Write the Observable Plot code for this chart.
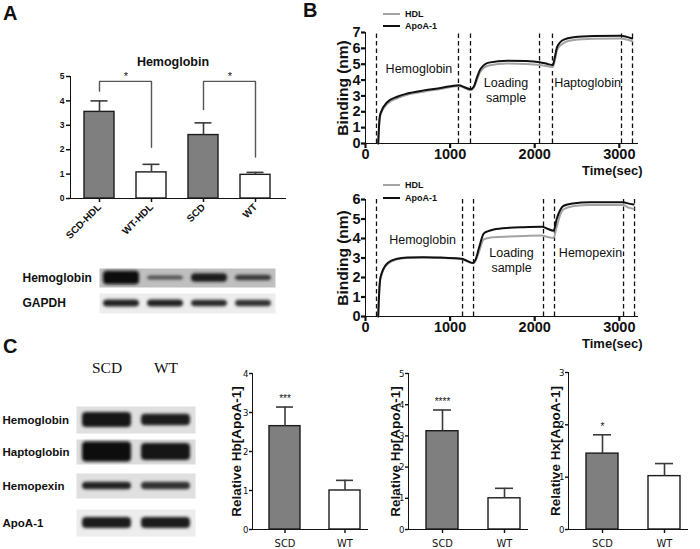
<!DOCTYPE html>
<html><head><meta charset="utf-8">
<script src="https://cdn.jsdelivr.net/npm/d3@7"></script>
<script src="https://cdn.jsdelivr.net/npm/@observablehq/plot@0.6"></script>
<style>
html,body{margin:0;padding:0;background:#fff;}
#fig{position:relative;width:700px;height:549px;overflow:hidden;background:#fff;font-family:"Liberation Sans",Arial,sans-serif;}
.abs{position:absolute;}
#fig svg{display:block;max-width:none;background:transparent;overflow:visible;}
.axA [aria-label^="x-axis"] path,.axA [aria-label^="x-axis"] line,.axA [aria-label^="y-axis"] path,.axA [aria-label^="y-axis"] line{stroke-width:1.5px;}
.axA [aria-label^="x-axis"] text{font-size:10px;}
.axB [aria-label^="x-axis"] path,.axB [aria-label^="x-axis"] line,.axB [aria-label^="y-axis"] path,.axB [aria-label^="y-axis"] line{stroke-width:2.2px;}
.axC [aria-label^="x-axis"] path,.axC [aria-label^="x-axis"] line,.axC [aria-label^="y-axis"] path,.axC [aria-label^="y-axis"] line{stroke-width:1.4px;}
.axC [aria-label^="x-axis"] text{font-size:11px;}
</style></head><body><div id="fig"></div>
<script>
// ---------------- DATA ----------------
// Panel A: Hemoglobin bar chart
const catsA = ["SCD-HDL", "WT-HDL", "SCD", "WT"];
const groupA = ["SCD", "WT", "SCD", "WT"];
const meanA = [3.55, 1.07, 2.6, 0.97];
const upperA = [4.0, 1.4, 3.1, 1.07];
const ticksA = [0, 1, 2, 3, 4, 5];
const titleA = ["Hemoglobin"];
const sigFromA = ["SCD-HDL", "SCD"];
const sigToA = ["WT-HDL", "WT"];
const sigTopA = [4.8, 4.8];
const sigLeftEndA = [4.4, 3.65];
const sigRightEndA = [2.1, 1.7];
const sigTextA = ["*", "*"];

// Panel A: western blot (lanes = catsA)
const blotRowsA = ["Hemoglobin", "GAPDH"];
const blotBgA = [0.75, 0.93];
const blotThickA = [[0.72, 0.22, 0.45, 0.28], [0.36, 0.36, 0.33, 0.32]];
const blotDarkA = [[0.03, 0.3, 0.1, 0.22], [0.14, 0.14, 0.16, 0.2]];

// Panel B: binding curves
const ticksBX = [0, 1000, 2000, 3000];
const ticksBTopY = [0, 1, 2, 3, 4, 5, 6, 7];
const ticksBBotY = [0, 1, 2, 3, 4, 5, 6];
const timeTop = [150, 165, 177, 256, 374, 492, 689, 886, 1103, 1170, 1241, 1281, 1320, 1359, 1458, 1675, 1900, 2061, 2150, 2214, 2240, 2266, 2344, 2462, 2700, 3014, 3152];
const apoTop  = [0, 1.5, 1.9, 2.6, 2.95, 3.15, 3.35, 3.5, 3.68, 3.55, 3.42, 3.6, 4.2, 4.7, 5.1, 5.22, 5.2, 5.12, 5.02, 4.95, 5.5, 6.1, 6.55, 6.7, 6.78, 6.8, 6.62];
const hdlTop  = [0, 1.4, 1.8, 2.5, 2.85, 3.07, 3.27, 3.43, 3.62, 3.5, 3.38, 3.52, 4.05, 4.55, 4.92, 5.04, 5.02, 4.95, 4.87, 4.82, 5.3, 5.9, 6.35, 6.52, 6.6, 6.62, 6.45];
const dashTop = [130, 1099, 1241, 2057, 2210, 3026, 3156];
const annTop = ["Hemoglobin", "Loading\nsample", "Haptoglobin"];
const annTopT = [632, 1661, 2624];
const annTopV = [4.77, 3.42, 3.88];

const timeBot = [150, 165, 177, 256, 374, 492, 689, 886, 1100, 1141, 1200, 1271, 1300, 1340, 1397, 1450, 1515, 1700, 1869, 2086, 2150, 2223, 2260, 2300, 2342, 2450, 2656, 3050, 3100, 3168];
const apoBot  = [0, 1.5, 2.0, 2.72, 2.96, 3.02, 3.04, 3.02, 2.98, 2.96, 2.85, 2.75, 2.9, 3.5, 4.25, 4.38, 4.46, 4.55, 4.58, 4.6, 4.5, 4.4, 5.0, 5.45, 5.68, 5.8, 5.86, 5.86, 5.8, 5.74];
const hdlBot  = [0, 1.45, 1.95, 2.68, 2.93, 3.0, 3.02, 3.0, 2.96, 2.94, 2.83, 2.73, 2.85, 3.3, 3.95, 4.02, 4.06, 4.1, 4.13, 4.15, 4.08, 4.03, 4.6, 5.2, 5.5, 5.65, 5.72, 5.72, 5.6, 5.52];
const dashBot = [130, 1147, 1277, 2104, 2234, 3050, 3180];
const annBot = ["Hemoglobin", "Loading\nsample", "Hemopexin"];
const annBotT = [674, 1726, 2659];
const annBotV = [3.95, 2.9, 3.28];
const legendNames = ["HDL", "ApoA-1"];

// Panel C: blots
const lanesC = ["SCD", "WT"];
const blotRowsC = ["Hemoglobin", "Haptoglobin", "Hemopexin", "ApoA-1"];
const blotBgC = [0.88, 0.86, 0.88, 0.93];
const blotThickC = [[0.55, 0.42], [0.8, 0.68], [0.3, 0.3], [0.4, 0.4]];
const blotDarkC = [[0.07, 0.12], [0.04, 0.07], [0.14, 0.2], [0.12, 0.12]];

// Panel C: relative bar charts
const hbMean = [2.65, 1.0], hbUpper = [3.14, 1.26];
const hpMean = [3.15, 1.0], hpUpper = [3.83, 1.32];
const hxMean = [1.45, 1.02], hxUpper = [1.81, 1.26];
const hbSig = ["***"], hpSig = ["****"], hxSig = ["*"];
const ticksHb = [0, 1, 2, 3, 4], ticksHp = [0, 1, 2, 3, 4, 5], ticksHx = [0, 1, 2, 3];

// ---------------- LAYOUT HELPERS ----------------
const fig = document.getElementById("fig");
function place(node, left, top, cls) {
  const d = document.createElement("div");
  d.className = "abs " + (cls || "");
  d.style.left = left + "px"; d.style.top = top + "px";
  d.appendChild(node); fig.appendChild(d); return node;
}
const SANS = "'Liberation Sans', Arial, Helvetica, sans-serif";
const NARROW = "'Liberation Sans Narrow', 'Arial Narrow', 'DejaVu Sans Condensed', 'Liberation Sans', sans-serif";
const base = {background: "transparent", overflow: "visible", fontFamily: SANS, color: "#111"};

// ---------------- PANEL A CHART ----------------
const padInA = 0.415, padOutA = 0.236, leftA = 70, rightA = 285, widthA = 300;
const stepA = (rightA - leftA) / (catsA.length - padInA + 2 * padOutA);
const bracketPts = sigFromA.flatMap((f, i) => [
  {id: i, x: f, y: sigLeftEndA[i]}, {id: i, x: f, y: sigTopA[i]},
  {id: i, x: sigToA[i], y: sigTopA[i]}, {id: i, x: sigToA[i], y: sigRightEndA[i]}
]);
place(Plot.plot({
  width: widthA, height: 200,
  marginLeft: leftA, marginRight: widthA - rightA, marginTop: 36, marginBottom: 42,
  style: {...base, fontSize: "8.5px", fontWeight: "bold"},
  x: {type: "band", domain: catsA, paddingInner: padInA, paddingOuter: padOutA, tickRotate: -45, tickSize: 4, tickPadding: 3, line: true, label: null},
  y: {domain: [0, 5], ticks: ticksA, tickFormat: "d", tickSize: 4, tickPadding: 2, line: true, label: null},
  color: {domain: ["SCD", "WT"], range: ["#7f7f7f", "#ffffff"]},
  marks: [
    Plot.barY(catsA, {x: catsA, y: meanA, fill: groupA, stroke: "#1c1c1c", strokeWidth: 1.4}),
    Plot.ruleX(catsA, {x: catsA, y1: meanA, y2: upperA, stroke: "#3a3a3a", strokeWidth: 1.6}),
    Plot.tickY(catsA, {x: catsA, y: upperA, insetLeft: 6.5, insetRight: 6.5, stroke: "#3a3a3a", strokeWidth: 1.6}),
    Plot.line(bracketPts, {x: "x", y: "y", z: "id", stroke: "#555", strokeWidth: 1.4}),
    Plot.text(sigFromA, {x: sigFromA, y: sigTopA, text: sigTextA, dx: stepA / 2, dy: -1, lineAnchor: "bottom", fontSize: 11, fontWeight: "normal"}),
    Plot.text(titleA, {frameAnchor: "top", text: d => d, dx: -5, dy: -19, fontSize: 12.5, fontWeight: "bold"})
  ]
}), 0, 40, "axA");

// ---------------- BLOTS ----------------
let blurCount = 0;
function blotRow({lanes, thick, dark, bg, label, width, marginLeft, marginRight, height, labelDx, inset, fontSize}) {
  const p = Plot.plot({
    width, height, marginTop: 0, marginBottom: 0, marginLeft, marginRight,
    style: {...base},
    x: {type: "band", domain: lanes, padding: 0, axis: null},
    y: {domain: [-1, 1], axis: null},
    color: {type: "linear", domain: [0, 1], range: ["#000000", "#ffffff"], interpolate: "rgb"},
    marks: [
      Plot.frame({fill: d3.interpolateRgb("#000", "#fff")(bg), stroke: "none"}),
      Plot.barY(lanes, {x: lanes, y1: thick.map(t => -t), y2: thick, fill: dark, insetLeft: inset, insetRight: inset, rx: 4}),
      Plot.text([label], {frameAnchor: "left", text: d => d, textAnchor: "start", dx: labelDx, fontSize, fontWeight: "bold", fill: "#111"})
    ]
  });
  const id = "blur" + (blurCount++);
  const f = d3.select(p).insert("defs", ":first-child").append("filter")
    .attr("id", id).attr("x", "-20%").attr("y", "-60%").attr("width", "140%").attr("height", "220%");
  f.append("feGaussianBlur").attr("stdDeviation", 1.4);
  d3.select(p).selectAll('g[aria-label="bar"]').attr("filter", `url(#${id})`);
  return p;
}
const rowTopA = [268, 293], rowHA = [19, 20];
blotRowsA.forEach((r, i) => place(blotRow({
  lanes: catsA, thick: blotThickA[i], dark: blotDarkA[i], bg: blotBgA[i], label: r,
  width: 280, marginLeft: 99, marginRight: 5, height: rowHA[i], labelDx: -77, inset: 4, fontSize: 12
}), 0, rowTopA[i]));

const rowTopC = [406, 439, 473, 509], rowHC = [27, 25, 25, 27];
blotRowsC.forEach((r, i) => place(blotRow({
  lanes: lanesC, thick: blotThickC[i], dark: blotDarkC[i], bg: blotBgC[i], label: r,
  width: 200, marginLeft: 76, marginRight: 5, height: rowHC[i], labelDx: -74, inset: 5, fontSize: 11.5
}), 0, rowTopC[i]));

place(Plot.plot({
  width: 200, height: 26, marginTop: 0, marginBottom: 0, marginLeft: 76, marginRight: 5,
  style: {...base},
  x: {type: "band", domain: lanesC, padding: 0, axis: null},
  marks: [Plot.text(lanesC, {x: lanesC, text: d => d, frameAnchor: "middle", fontFamily: "'Liberation Serif', 'Times New Roman', serif", fontSize: 15.5})]
}), 0, 355);

// ---------------- PANEL B ----------------
function bindingPlot({time, hdl, apo, dash, ymax, yTicks, ann, annT, annV, height, mTop, mBottom}) {
  return Plot.plot({
    width: 460, height, marginLeft: 125, marginRight: 63, marginTop: mTop, marginBottom: mBottom,
    style: {...base, fontSize: "14.5px", fontWeight: "bold"},
    x: {domain: [0, 3215], ticks: ticksBX, tickFormat: "d", tickSize: 5, tickPadding: 0, line: true, label: null},
    y: {domain: [0, ymax], ticks: yTicks, tickFormat: "d", tickSize: 4, tickPadding: 1, line: true, label: null},
    marks: [
      Plot.ruleX(dash, {x: d => d, y1: 0, y2: ymax, stroke: "#111", strokeWidth: 1.3, strokeDasharray: "4.5,3"}),
      Plot.line(time, {x: time, y: hdl, stroke: "#a3a3a3", strokeWidth: 2, curve: "monotone-x"}),
      Plot.line(time, {x: time, y: apo, stroke: "#111", strokeWidth: 2, curve: "monotone-x"}),
      Plot.text(ann, {x: annT, y: annV, text: ann, fontSize: 12.5, fontWeight: "normal", lineHeight: 1.2, fill: "#111"}),
      Plot.text(["Binding (nm)"], {frameAnchor: "left", text: d => d, textAnchor: "middle", rotate: -90, dx: -22, fontSize: 15.5, fontWeight: "bold"}),
      Plot.text(["Time(sec)"], {frameAnchor: "bottom-right", text: d => d, textAnchor: "end", dx: 5, dy: 31, fontSize: 13, fontWeight: "bold"})
    ]
  });
}
place(bindingPlot({time: timeTop, hdl: hdlTop, apo: apoTop, dash: dashTop, ymax: 7, yTicks: ticksBTopY,
  ann: annTop, annT: annTopT, annV: annTopV, height: 180, mTop: 32, mBottom: 37}), 240, 0, "axB");
place(bindingPlot({time: timeBot, hdl: hdlBot, apo: apoBot, dash: dashBot, ymax: 6, yTicks: ticksBBotY,
  ann: annBot, annT: annBotT, annV: annBotV, height: 190, mTop: 29, mBottom: 44}), 240, 170, "axB");

// ---------------- PANEL C CHARTS ----------------
function relPlot({mean, upper, sig, label, ymax, yTicks, marginLeft, marginTop, labelDx}) {
  return Plot.plot({
    width: 160, height: 189, marginLeft, marginRight: 13, marginTop, marginBottom: 20,
    style: {...base, fontSize: "9.5px", fontFamily: NARROW},
    x: {type: "band", domain: lanesC, paddingInner: 0.49, paddingOuter: 0.2, align: 0.7, tickSize: 4, tickPadding: 6, line: true, label: null},
    y: {domain: [0, ymax], ticks: yTicks, tickFormat: "d", tickSize: 3, tickPadding: 1, line: true, label: null},
    color: {domain: lanesC, range: ["#7f7f7f", "#ffffff"]},
    marks: [
      Plot.barY(lanesC, {x: lanesC, y: mean, fill: lanesC, stroke: "#1c1c1c", strokeWidth: 1.4}),
      Plot.ruleX(lanesC, {x: lanesC, y1: mean, y2: upper, stroke: "#3a3a3a", strokeWidth: 1.6}),
      Plot.tickY(lanesC, {x: lanesC, y: upper, insetLeft: 7, insetRight: 7, stroke: "#3a3a3a", strokeWidth: 1.6}),
      Plot.text(sig, {x: [lanesC[0]], y: [upper[0]], text: d => d, dy: -5, lineAnchor: "bottom", fontSize: 10, fontFamily: SANS}),
      Plot.text([label], {frameAnchor: "left", text: d => d, textAnchor: "middle", rotate: -90, dx: labelDx, fontSize: 13.5, fontWeight: "bold", fontFamily: SANS})
    ]
  });
}
place(relPlot({mean: hbMean, upper: hbUpper, sig: hbSig, label: "Relative Hb[ApoA-1]", ymax: 4, yTicks: ticksHb, marginLeft: 32, marginTop: 13, labelDx: -16}), 220, 360, "axC");
place(relPlot({mean: hpMean, upper: hpUpper, sig: hpSig, label: "Relative Hp[ApoA-1]", ymax: 5, yTicks: ticksHp, marginLeft: 28, marginTop: 13, labelDx: -13}), 380, 360, "axC");
place(relPlot({mean: hxMean, upper: hxUpper, sig: hxSig, label: "Relative Hx[ApoA-1]", ymax: 3, yTicks: ticksHx, marginLeft: 28, marginTop: 12, labelDx: -13}), 540, 360, "axC");

// ---------------- OVERLAY: panel letters & legends ----------------
const ov = d3.create("svg").attr("width", 700).attr("height", 549)
  .style("position", "absolute").style("left", "0px").style("top", "0px")
  .attr("font-family", SANS);
const letters = ["A", "B", "C"], letterX = [3, 303, 3], letterY = [20, 17, 353];
letters.forEach((t, i) => ov.append("text").attr("x", letterX[i]).attr("y", letterY[i])
  .attr("font-size", 20).attr("font-weight", "bold").attr("fill", "#111").text(t));
const legendColors = ["#a3a3a3", "#111"];
[[14, 26], [185, 198]].forEach(ys => legendNames.forEach((n, i) => {
  ov.append("line").attr("x1", 383).attr("x2", 400).attr("y1", ys[i]).attr("y2", ys[i])
    .attr("stroke", legendColors[i]).attr("stroke-width", 2);
  ov.append("text").attr("x", 405).attr("y", ys[i] + 3.3).attr("font-size", 9).attr("font-weight", "bold")
    .attr("fill", "#111").text(n);
}));
fig.appendChild(ov.node());
</script>
</body></html>
